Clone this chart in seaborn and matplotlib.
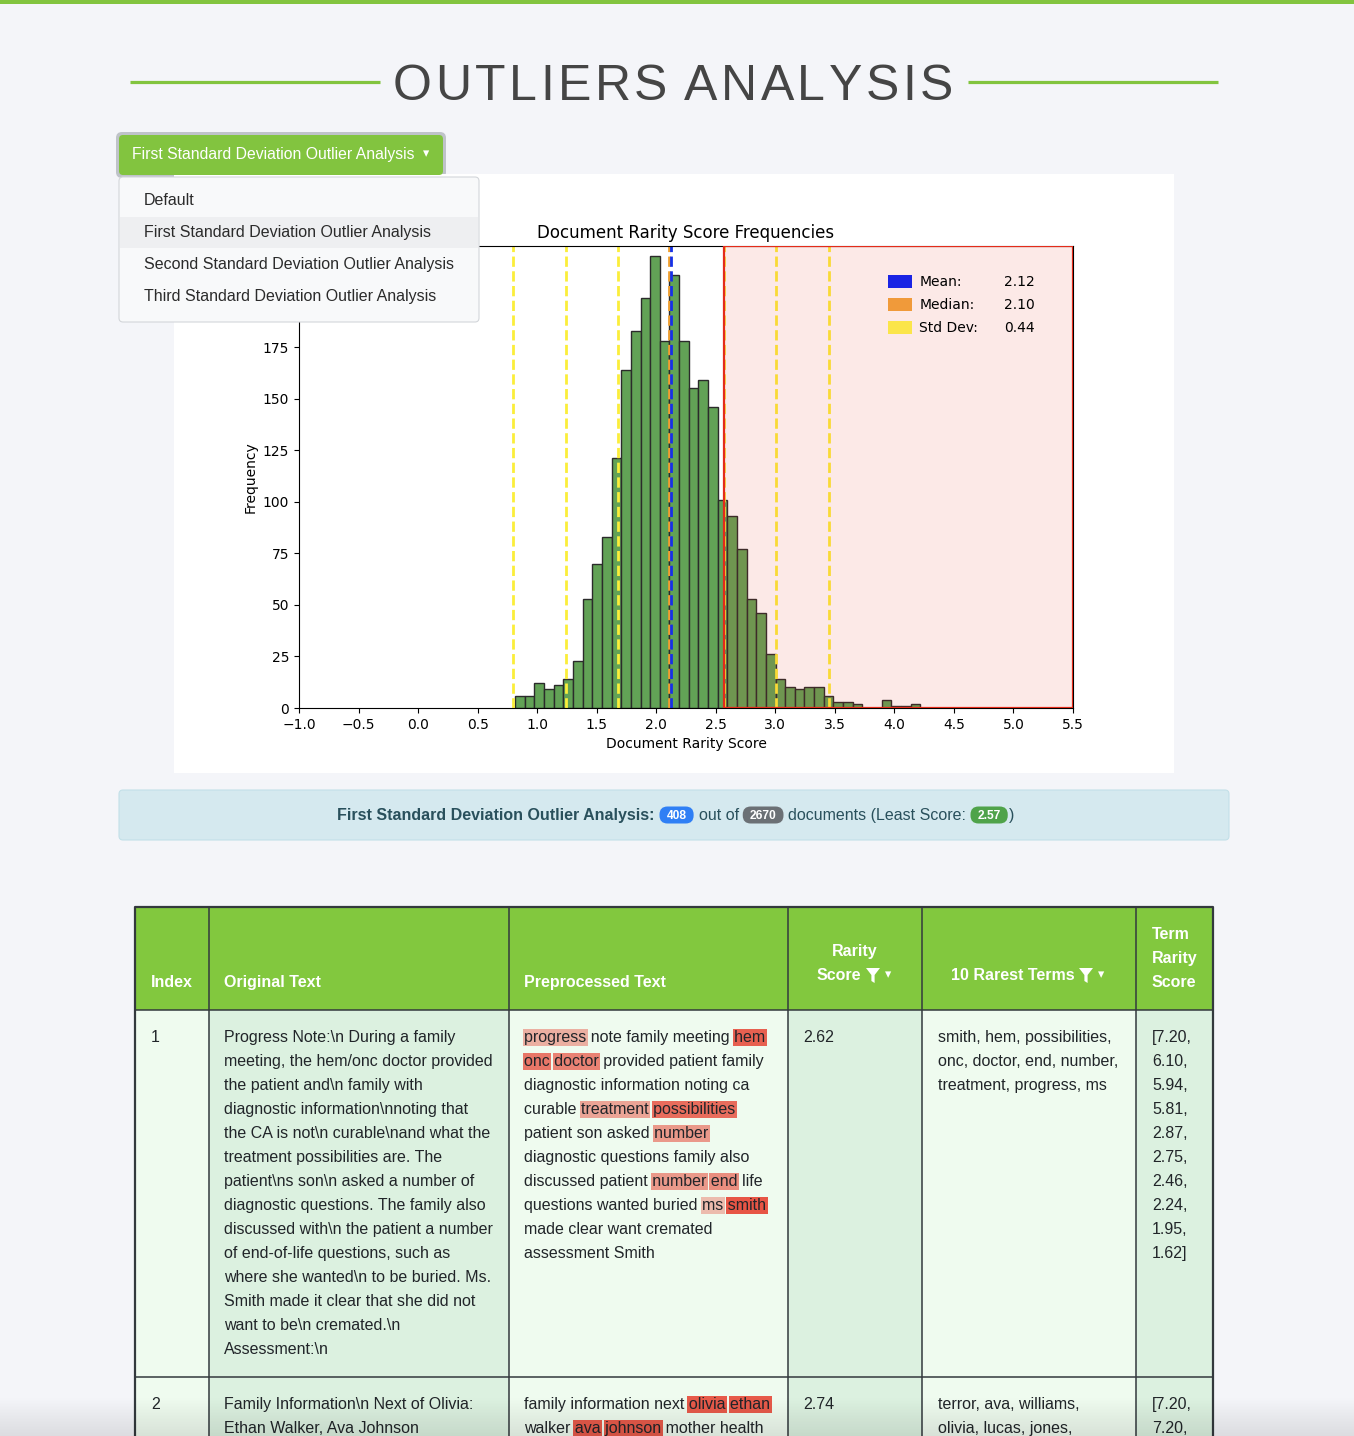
import numpy as np
import pandas as pd
import matplotlib
matplotlib.use('Agg')
import matplotlib.pyplot as plt
from matplotlib.patches import Rectangle, FancyBboxPatch, Polygon, Patch
import seaborn as sns

# ---- histogram data ----
bin_start = 0.815
bin_width = 0.081
counts = [6, 6, 12, 9, 11, 14, 23, 53, 70, 83,
          121, 164, 183, 199, 219, 178, 210, 178, 155, 159,
          146, 101, 93, 77, 53, 46, 26, 14, 10, 9,
          10, 10, 6, 3, 3, 2, 0, 0, 4, 1, 1, 2]
mean_score = 2.124
median_score = 2.104
std_score = 0.442
least_score = 2.57
n_outliers = 408
n_docs = 2670

menu_items = ['Default', 'First Standard Deviation Outlier Analysis',
              'Second Standard Deviation Outlier Analysis',
              'Third Standard Deviation Outlier Analysis']
selected = 'First Standard Deviation Outlier Analysis'

# ---- table data ----
row1_orig = ['Progress Note:\\n During a family',
             'meeting, the hem/onc doctor provided',
             'the patient and\\n family with',
             'diagnostic information\\nnoting that',
             'the CA is not\\n curable\\nand what the',
             'treatment possibilities are. The',
             'patient\\ns son\\n asked a number of',
             'diagnostic questions. The family also',
             'discussed with\\n the patient a number',
             'of end-of-life questions, such as',
             'where she wanted\\n to be buried. Ms.',
             'Smith made it clear that she did not',
             'want to be\\n cremated.\\n',
             'Assessment:\\n']
row1_prep = ['progress note family meeting hem',
             'onc doctor provided patient family',
             'diagnostic information noting ca',
             'curable treatment possibilities',
             'patient son asked number',
             'diagnostic questions family also',
             'discussed patient number end life',
             'questions wanted buried ms smith',
             'made clear want cremated',
             'assessment Smith']
row1_score = 2.62
row1_terms = ['smith', 'hem', 'possibilities', 'onc', 'doctor', 'end',
              'number', 'treatment', 'progress', 'ms']
row1_term_scores = [7.20, 6.10, 5.94, 5.81, 2.87, 2.75, 2.46, 2.24, 1.95, 1.62]
row1_term_lines = ['smith, hem, possibilities,', 'onc, doctor, end, number,',
                   'treatment, progress, ms']

row2_orig = ['Family Information\\n Next of Olivia:', 'Ethan Walker, Ava Johnson']
row2_prep = ['family information next olivia ethan', 'walker ava johnson mother health']
row2_score = 2.74
row2_marked = ['olivia', 'ethan', 'ava', 'johnson']
row2_term_lines = ['terror, ava, williams,', 'olivia, lucas, jones,']
row2_term_scores = [7.20, 7.20]

FONT = 'Liberation Sans'
GREEN = '#82c43f'

fig = plt.figure(figsize=(13.54, 14.36), dpi=100)
fig.patch.set_facecolor('#f4f5f9')
pg = fig.add_axes([0, 0, 1, 1])
pg.set_xlim(0, 1354)
pg.set_ylim(1436, 0)
pg.axis('off')
r = fig.canvas.get_renderer()


def box(ax, x0, y0, x1, y1, fc, ec='none', lw=0, rs=0, z=1):
    if rs:
        p = FancyBboxPatch((x0, y0), x1 - x0, y1 - y0,
                           boxstyle=f'round,pad=0,rounding_size={rs}',
                           fc=fc, ec=ec, lw=lw, zorder=z)
    else:
        p = Rectangle((x0, y0), x1 - x0, y1 - y0, fc=fc, ec=ec, lw=lw, zorder=z)
    ax.add_patch(p)


def T(ax, x, yc, s, px=16, color='#212529', weight='normal', ha='left',
      family=FONT, z=5):
    return ax.text(x, yc + 0.34 * px, s, fontsize=px * 0.72, color=color,
                   fontweight=weight, ha=ha, va='baseline', family=family,
                   zorder=z)


def tw(s, px=16, weight='normal'):
    t = pg.text(0, 0, s, fontsize=px * 0.72, family=FONT, fontweight=weight)
    w = t.get_window_extent(r).width
    t.remove()
    return w


# top bar
box(pg, 0, 0, 1354, 4, GREEN)

# title with letter spacing
title = 'OUTLIERS ANALYSIS'
tpx = 50
space_w = 13
ink = sum(tw(c, tpx) for c in title if c != ' ')
sp = (560 - ink - space_w) / 15
x = 393
for c in title:
    if c == ' ':
        x += space_w
        continue
    t = pg.text(x, 100, c, fontsize=tpx * 0.72, family=FONT, color='#454545',
                va='baseline', ha='left')
    x += t.get_window_extent(r).width + sp
pg.plot([130, 380], [82, 82], color=GREEN, lw=2.3, solid_capstyle='butt')
pg.plot([968, 1218], [82, 82], color=GREEN, lw=2.3, solid_capstyle='butt')

# dropdown button
box(pg, 116, 132, 446, 178, '#bfc3c9', rs=6)
box(pg, 119, 135, 443, 175, GREEN, rs=4, z=2)
T(pg, 132, 154, selected, px=15.8, color='white')
pg.text(423, 154, '\u25be', fontsize=9, color='white', family='DejaVu Sans',
        va='center', ha='left', zorder=5)

# chart panel
box(pg, 174, 174, 1174, 773, 'white')

# ---- histogram ----
ax = fig.add_axes([299 / 1354, (1436 - 708) / 1436, 774 / 1354, 462 / 1436])
ax.set_zorder(2)
edges = bin_start + bin_width * np.arange(len(counts) + 1)
hist_df = pd.DataFrame({'score': (edges[:-1] + edges[1:]) / 2, 'count': counts})
sns.histplot(data=hist_df, x='score', weights='count', bins=list(edges),
             color='#62a256', edgecolor='#2b2b2b', linewidth=1, alpha=1, ax=ax)

for k in (1, 2, 3):
    for s in (-1, 1):
        ax.axvline(mean_score + s * k * std_score, color='#fbee3a', ls='--', lw=2)
ax.axvline(median_score, color='#f0a030', ls='--', lw=2)
ax.axvline(mean_score, color='#1530e8', ls='--', lw=2)
ax.axvspan(least_score, 5.5, fc=(0.91, 0.19, 0.11, 0.1), ec='#e32b1a', lw=1.6, zorder=3)

ax.set_xlim(-1, 5.5)
ax.set_ylim(0, 224)
ax.set_xticks(np.arange(-1, 5.51, 0.5))
ax.set_yticks(np.arange(0, 201, 25))
ax.set_title('Document Rarity Score Frequencies', fontsize=12)
ax.set_xlabel('Document Rarity Score')
ax.set_ylabel('Frequency')

stat_labels = ['Mean:', 'Median:', 'Std Dev:']
stat_values = [mean_score, median_score, std_score]
stat_colors = ['#1a24e4', '#f09a3a', '#fbe54a']
handles = [Patch(fc=c, ec='none') for c in stat_colors]
leg = ax.legend(handles, stat_labels, loc='upper left', bbox_to_anchor=(0.761, 0.937),
                frameon=False, handlelength=1.75, handleheight=1.1,
                handletextpad=0.5, labelspacing=0.62, borderaxespad=0, borderpad=0)
leg.set_zorder(6)

# ---- dropdown menu overlay ----
ov = fig.add_axes([0, 0, 1, 1])
ov.set_zorder(3)
ov.set_xlim(0, 1354)
ov.set_ylim(1436, 0)
ov.axis('off')
box(ov, 119, 177, 479, 322, '#f8f9fa', ec='#d3d6da', lw=0.8, rs=4)
for i, item in enumerate(menu_items):
    yc = 200 + 32 * i
    if item == selected:
        box(ov, 120, yc - 15, 478, yc + 16, '#eeeff1', z=2)
    T(ov, 144, yc, item, color='#2b2b2b')

# ---- alert ----
box(pg, 119, 790, 1229, 840, '#d5e9ef', ec='#c3e0e8', lw=0.8, rs=4)
parts = [('text', 'First Standard Deviation Outlier Analysis:', dict(weight='bold', color='#29505c'), 5),
         ('badge', str(n_outliers), '#2f7ff5', 5),
         ('text', 'out of', dict(color='#29505c'), 4),
         ('badge', str(n_docs), '#6b7075', 5),
         ('text', 'documents (Least Score:', dict(color='#29505c'), 4),
         ('badge', f'{least_score:.2f}', '#4fa34a', 1),
         ('text', ')', dict(color='#29505c'), 0)]
x = 337
yc = 815
for kind, s, opt, gap in parts:
    if kind == 'text':
        t = T(pg, x, yc, s, **opt)
        x += t.get_window_extent(r).width + gap
    else:
        t = T(pg, x + 7, yc, s, px=12, color='white', weight='bold', z=6)
        w = t.get_window_extent(r).width
        box(pg, x, yc - 8.5, x + w + 14, yc + 8.5, opt, rs=8, z=5)
        x += w + 14 + gap

# ---- table ----
xs = [135, 209, 509, 788, 922, 1136, 1213]
col_fc = ['#effbef', '#dcf1e0', '#effbef', '#dcf1e0', '#effbef', '#dcf1e0']
y_head, y_r1, y_r2, y_end = 907, 1010, 1377, 1440
box(pg, xs[0], y_head, xs[-1], y_r1, '#82c83e')
for i in range(6):
    box(pg, xs[i], y_r1, xs[i + 1], y_end, col_fc[i])
lc = '#33393d'
for xv in xs[1:-1]:
    pg.plot([xv, xv], [y_head, y_end], color=lc, lw=1.1, zorder=3)
for yv in (y_r1, y_r2):
    pg.plot([xs[0], xs[-1]], [yv, yv], color=lc, lw=1.1, zorder=3)
pg.plot([xs[0], xs[0], xs[-1], xs[-1]], [y_end, y_head, y_head, y_end],
        color=lc, lw=1.6, zorder=4)

hw = dict(color='white', weight='bold')
T(pg, 151, 982, 'Index', **hw)
T(pg, 224, 982, 'Original Text', **hw)
T(pg, 524, 982, 'Preprocessed Text', **hw)
T(pg, 855, 951, 'Rarity', ha='center', **hw)
T(pg, 817, 975, 'Score', **hw)
T(pg, 951, 975, '10 Rarest Terms', **hw)
for j, w in enumerate(['Term', 'Rarity', 'Score']):
    T(pg, 1152, 934 + 24 * j, w, **hw)


def funnel(x0, yt):
    pts = [(x0, yt), (x0 + 14, yt), (x0 + 8.6, yt + 7), (x0 + 8.6, yt + 15),
           (x0 + 5.4, yt + 13), (x0 + 5.4, yt + 7)]
    pg.add_patch(Polygon(pts, closed=True, fc='white', ec='none', zorder=5))
    pg.text(x0 + 19, 975, '\u25be', fontsize=9, color='white', family='DejaVu Sans',
            va='center', ha='left', zorder=5)


funnel(866, 968)
funnel(1079, 968)

HL = (0.906, 0.298, 0.235)


def prep_lines(x0, y0, lines, alphas):
    for li, line in enumerate(lines):
        yc = y0 + 24 * li
        words = line.split(' ')
        for i, wd in enumerate(words):
            if wd in alphas:
                w = tw(wd)
                start = x0 + tw(' '.join(words[:i + 1])) - w
                box(pg, start - 1.5, yc - 8.5, start + w + 1.5, yc + 8.5,
                    HL + (alphas[wd],), z=4)
        T(pg, x0, yc, line)


# row 1
T(pg, 151, 1037, '1')
for i, line in enumerate(row1_orig):
    T(pg, 224, 1037 + 24 * i, line)
alphas1 = {t: 0.95 - 0.065 * k for k, t in enumerate(row1_terms)}
prep_lines(524, 1037, row1_prep, alphas1)
T(pg, 803, 1037, f'{row1_score:.2f}')
for i, line in enumerate(row1_term_lines):
    T(pg, 938, 1037 + 24 * i, line)
n1 = len(row1_term_scores)
for i, v in enumerate(row1_term_scores):
    s = ('[' if i == 0 else '') + f'{v:.2f}' + (']' if i == n1 - 1 else ',')
    T(pg, 1152, 1037 + 24 * i, s)

# row 2
T(pg, 151, 1404, '2')
for i, line in enumerate(row2_orig):
    T(pg, 224, 1404 + 24 * i, line)
prep_lines(524, 1404, row2_prep, {w: 0.92 for w in row2_marked})
T(pg, 803, 1404, f'{row2_score:.2f}')
for i, line in enumerate(row2_term_lines):
    T(pg, 938, 1404 + 24 * i, line)
for i, v in enumerate(row2_term_scores):
    T(pg, 1152, 1404 + 24 * i, ('[' if i == 0 else '') + f'{v:.2f},')

# soft shadow at the bottom edge
grad = np.zeros((40, 2, 4))
grad[..., 3] = np.linspace(0, 0.10, 40)[:, None]
ov.imshow(grad, extent=[0, 1354, 1436, 1396], aspect='auto', zorder=10,
          interpolation='bilinear')
ov.set_xlim(0, 1354)
ov.set_ylim(1436, 0)

# legend values, aligned with the legend rows once layout is known
fig.canvas.draw()
inv = ax.transAxes.inverted()
for t, v in zip(leg.get_texts(), stat_values):
    bb = t.get_window_extent()
    _, ya = inv.transform(((bb.x0 + bb.x1) / 2, (bb.y0 + bb.y1) / 2))
    ax.text(0.911, ya, f'{v:.2f}', transform=ax.transAxes, va='center',
            ha='left', fontsize=10, zorder=6)

fig.savefig('out.png', dpi=100, facecolor=fig.get_facecolor())
